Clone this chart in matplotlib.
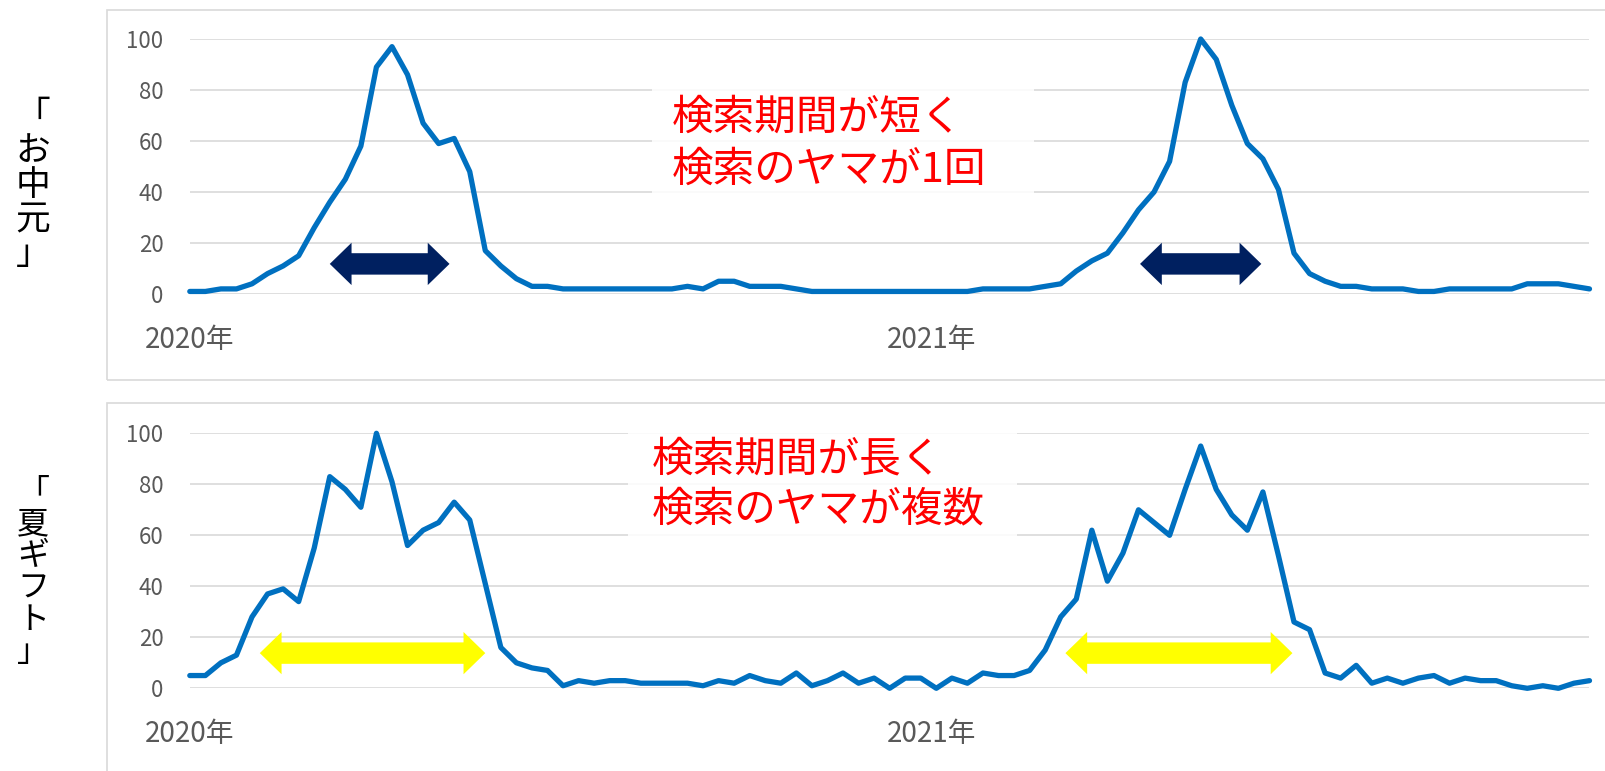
import matplotlib.pyplot as plt
import matplotlib.patches as patches

plt.rcParams['font.family'] = ['Noto Sans CJK JP', 'DejaVu Sans']

# weekly Google-Trends style index, 91 weeks from early 2020
weeks = list(range(91))
ochugen = [1, 1, 2, 2, 4, 8, 11, 15, 26, 36, 45, 58, 89, 97, 86, 67, 59, 61, 48, 17,
           11, 6, 3, 3, 2, 2, 2, 2, 2, 2, 2, 2, 3, 2, 5, 5, 3, 3, 3, 2,
           1, 1, 1, 1, 1, 1, 1, 1, 1, 1, 1, 2, 2, 2, 2, 3, 4, 9, 13, 16,
           24, 33, 40, 52, 83, 100, 92, 74, 59, 53, 41, 16, 8, 5, 3, 3, 2, 2, 2, 1,
           1, 2, 2, 2, 2, 2, 4, 4, 4, 3, 2]
natsu_gift = [5, 5, 10, 13, 28, 37, 39, 34, 55, 83, 78, 71, 100, 81, 56, 62, 65, 73, 66, 41,
              16, 10, 8, 7, 1, 3, 2, 3, 3, 2, 2, 2, 2, 1, 3, 2, 5, 3, 2, 6,
              1, 3, 6, 2, 4, 0, 4, 4, 0, 4, 2, 6, 5, 5, 7, 15, 28, 35, 62, 42,
              53, 70, 65, 60, 78, 95, 78, 68, 62, 77, 52, 26, 23, 6, 4, 9, 2, 4, 2, 4,
              5, 2, 4, 3, 3, 1, 0, 1, 0, 2, 3]

year_ticks = [0, 47.7]
year_labels = ['2020年', '2021年']
y_ticks = [0, 20, 40, 60, 80, 100]

names = ['「お中元」', '「夏ギフト」']
notes = [['検索期間が短く', '検索のヤマが1回'],
         ['検索期間が長く', '検索のヤマが複数']]

# annotation placement in data units (week index, value)
arrow_spans = [[(9.0, 16.7), (61.1, 68.9)], [(4.5, 19.0), (56.3, 70.9)]]
arrow_y = [11.8, 13.8]
arrow_colors = ['#002060', '#FFFF00']
note_boxes = [(29.7, 36, 24.6, 46), (28.2, 57, 25.0, 45)]
note_xy = [(31.0, 68.8, 48.6), (29.7, 89.7, 69.9)]

blue = '#0070C0'
grey = '#595959'
grid_c = '#D9D9D9'

W, H = 1606, 771
fig = plt.figure(figsize=(W / 100, H / 100), dpi=100)

# panel frames
fig.patches.append(patches.Rectangle((107.5 / W, 391 / H), 1.1, 370 / H, transform=fig.transFigure,
                                     fill=False, ec=grid_c, lw=1.2))
fig.patches.append(patches.Rectangle((107.5 / W, -0.05), 1.1, 368 / H + 0.05, transform=fig.transFigure,
                                     fill=False, ec=grid_c, lw=1.2))


def double_arrow(ax, x0, x1, y, color):
    hw, hh, hl = 4.2, 8.3, 1.4
    xs = [x0, x0 + hl, x0 + hl, x1 - hl, x1 - hl, x1, x1 - hl, x1 - hl, x0 + hl, x0 + hl]
    ys = [y, y + hh, y + hw, y + hw, y + hh, y, y - hh, y - hw, y - hw, y - hh]
    ax.add_patch(patches.Polygon(list(zip(xs, ys)), closed=True, fc=color, ec='none', zorder=4))


series = [ochugen, natsu_gift]
bottoms = [477 / H, 82.7 / H]
for i in range(2):
    ax = fig.add_axes([189.8 / W, bottoms[i], 1399.7 / W, 255 / H])
    ax.plot(weeks, series[i], color=blue, lw=3.8, solid_joinstyle='round',
            solid_capstyle='round', clip_on=False, zorder=3)
    ax.set_xlim(0, 90)
    ax.set_ylim(0, 100)
    ax.set_yticks(y_ticks)
    ax.set_xticks(year_ticks, year_labels)
    ax.set_axisbelow(True)
    ax.grid(axis='y', color=grid_c, lw=1.2)
    for s in ax.spines.values():
        s.set_visible(False)
    ax.tick_params(axis='y', length=0, pad=19, labelsize=16, labelcolor=grey)
    ax.tick_params(axis='x', length=0, pad=22, labelsize=20, labelcolor=grey)

    bx, by, bw, bh = note_boxes[i]
    ax.add_patch(patches.Rectangle((bx, by), bw, bh, fc='white', ec='none', alpha=0.85,
                                   zorder=1, clip_on=False))
    tx, ty1, ty2 = note_xy[i]
    ax.text(tx, ty1, notes[i][0], color='#FF0000', fontsize=30, ha='left', va='center', zorder=2)
    ax.text(tx, ty2, notes[i][1], color='#FF0000', fontsize=30, ha='left', va='center', zorder=2)

    for x0, x1 in arrow_spans[i]:
        double_arrow(ax, x0, x1, arrow_y[i], arrow_colors[i])

# vertical (stacked) panel labels, one character per row, pixel rows from the top
label_cy = [182, 569]
label_pitch = [34.5, 32]
label_fs = [25, 23]
for name, cy, p, fs in zip(names, label_cy, label_pitch, label_fs):
    n = len(name)
    for k, ch in enumerate(name):
        yc = cy + (k - (n - 1) / 2) * p
        base = yc + 0.38 * fs / 0.72
        fig.text(33 / W, 1 - base / H, ch, fontsize=fs, ha='center', va='baseline', color='black')

fig.savefig('out.png', dpi=100)
